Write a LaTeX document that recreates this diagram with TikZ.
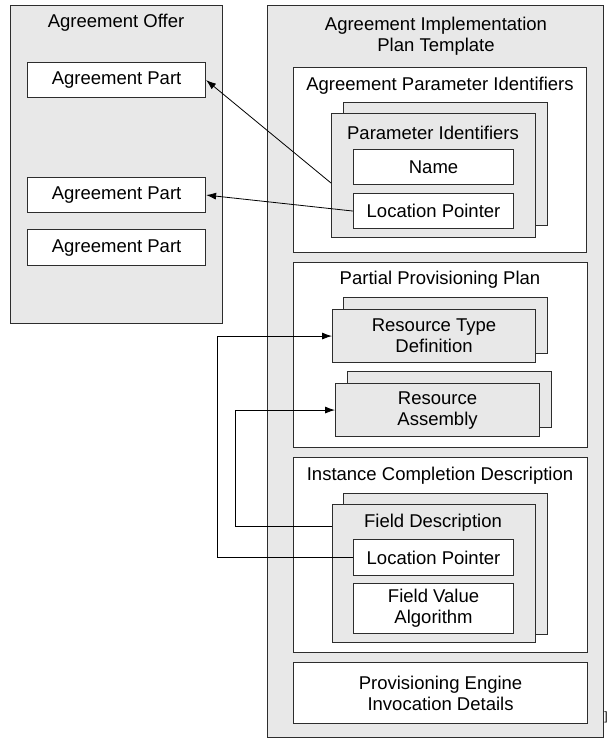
\documentclass[tikz,border=0pt]{standalone}
\usepackage{fontspec}
\setmainfont{Liberation Sans}
\usetikzlibrary{calc,arrows.meta}

\definecolor{boxgray}{RGB}{232,232,232}
\definecolor{linegray}{RGB}{45,45,45}

\tikzset{
  base/.style={draw=linegray,line width=1.1pt,inner sep=0pt,anchor=north west,
    align=center,font=\fontsize{18.5}{21}\selectfont},
  graybox/.style={base,fill=boxgray},
  whitebox/.style={base,fill=white},
  title/.style={inner sep=0pt,align=center,font=\fontsize{18.5}{21}\selectfont},
  link/.style={draw=black,line width=0.8pt,-{Latex[length=10pt,width=7pt]}}
}

\begin{document}
\begin{tikzpicture}[x=1pt,y=-1pt]
%\draw[step=10,gray,very thin] (0,0) grid (610,740); %background grid
\useasboundingbox (0,0) rectangle (610,740);

% left column
\node[graybox,minimum width=212,minimum height=318] (offer) at (10,5) {};
\node[title] (offertitle) at (116,23) {Agreement Offer};
\node[whitebox,minimum width=178,minimum height=35] (part1) at (27,62) {Agreement Part};
\node[whitebox,minimum width=178,minimum height=35] (part2) at (27,177) {Agreement Part};
\node[whitebox,minimum width=178,minimum height=36] (part3) at (27,229) {Agreement Part};

% right column
\node[graybox,minimum width=336,minimum height=732] (template) at (267,5) {};
\node[title] (templatetitle) at (436,36) {Agreement Implementation\\Plan Template};

\node[whitebox,minimum width=293,minimum height=185] (apid) at (293,67) {};
\node[title] (apidtitle) at (440,86) {Agreement Parameter Identifiers};
\node[graybox,minimum width=204,minimum height=123] (paramback) at (343,102) {};
\node[graybox,minimum width=204,minimum height=124] (param) at (331,113) {};
\node[title] (paramtitle) at (433,133) {Parameter Identifiers};
\node[whitebox,minimum width=160,minimum height=35] (name) at (353,149) {Name};
\node[whitebox,minimum width=160,minimum height=35] (locptr) at (353,193) {Location Pointer};

\node[whitebox,minimum width=294,minimum height=185] (ppp) at (293,262) {};
\node[title] (ppptitle) at (440,280) {Partial Provisioning Plan};
\node[graybox,minimum width=204,minimum height=56] (rtdback) at (343,297) {};
\node[graybox,minimum width=203,minimum height=53] (rtd) at (332,309) {Resource Type\\Definition};
\node[graybox,minimum width=204,minimum height=56] (raback) at (347,371) {};
\node[graybox,minimum width=204,minimum height=53] (ra) at (335,383) {Resource\\Assembly};

\node[whitebox,minimum width=294,minimum height=195] (icd) at (293,457) {};
\node[title] (icdtitle) at (440,476) {Instance Completion Description};
\node[graybox,minimum width=204,minimum height=141] (fdback) at (343,493) {};
\node[graybox,minimum width=203,minimum height=138] (fd) at (332,504) {};
\node[title] (fdtitle) at (433,523) {Field Description};
\node[whitebox,minimum width=160,minimum height=36] (locptrb) at (353,539) {Location Pointer};
\node[whitebox,minimum width=160,minimum height=50] (fva) at (353,583) {Field Value\\Algorithm};

\node[whitebox,minimum width=294,minimum height=61] (ped) at (293,662) {Provisioning Engine\\Invocation Details};

\node[title,font=\fontsize{12}{12}\selectfont] (stray) at (606,717) {]};

% connectors
\coordinate (laneA) at (217,0);
\coordinate (laneB) at (235,0);
\coordinate (paramport) at ($(param.north west)+(0,70)$);
\coordinate (fdport) at ($(fd.north west)+(0,22)$);

\draw[link] (paramport) -- (part1.east);
\draw[link] (locptr.west) -- (part2.east);
\draw[link] (locptrb.west) -- (locptrb.west -| laneA) |- (rtd.west);
\draw[link] (fdport) -- (fdport -| laneB) |- (ra.west);

\end{tikzpicture}
\end{document}
